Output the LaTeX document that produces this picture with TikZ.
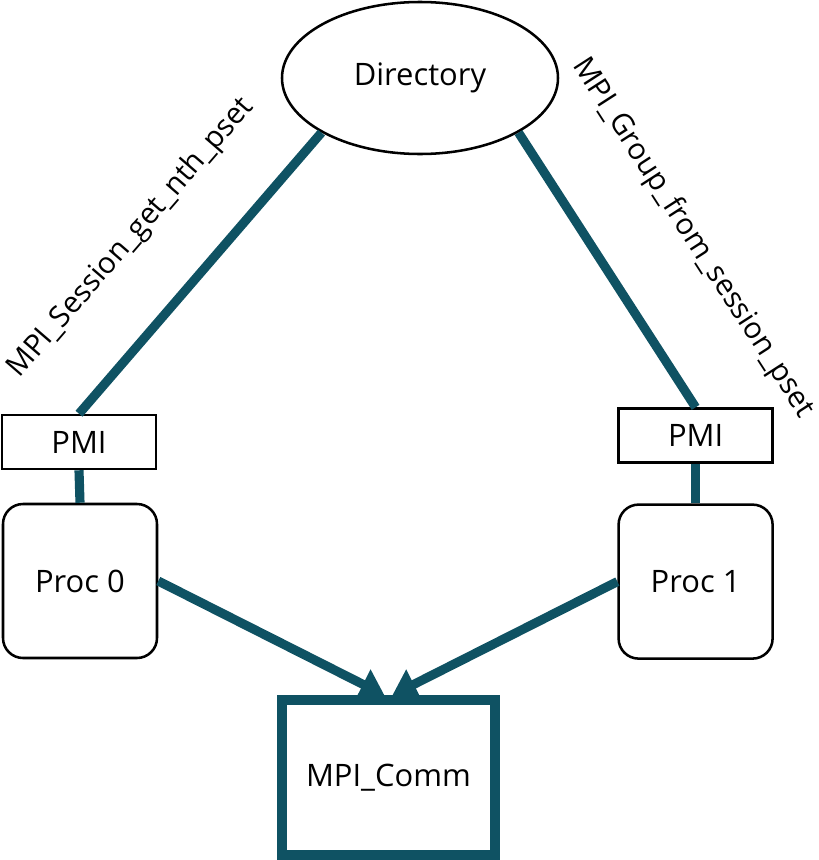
\documentclass[tikz,border=0pt]{standalone}
\usepackage{fontspec}
\setmainfont{Open Sans}
\usetikzlibrary{arrows.meta,shapes.geometric,positioning}
\definecolor{mpiteal}{RGB}{15,82,99}

\begin{document}
\begin{tikzpicture}[
    every node/.style={font=\fontsize{22}{26}\selectfont},
    pmibox/.style={draw, line width=1.8pt, minimum width=3.85cm, minimum height=1.35cm, inner sep=0pt},
    proc/.style={draw, line width=1.8pt, rounded corners=0.5cm, minimum width=3.85cm, minimum height=3.85cm, inner sep=0pt},
    link/.style={mpiteal, line width=6.5pt},
    arr/.style={-{Triangle[length=0.6cm, width=0.8cm]}, mpiteal, line width=6.5pt},
    lbl/.style={sloped, inner sep=0pt, text=black, font=\fontsize{21}{25}\selectfont}
]
\useasboundingbox (0,0) rectangle (20.475,-21.5);
\node[ellipse, draw, line width=1.8pt, minimum width=6.9cm, minimum height=3.8cm, inner sep=0pt] (dir) at (10.5,-1.95) {Directory};
\node[pmibox] (pmiL) at (1.975,-11.05) {PMI};
\node[pmibox] (pmiR) at (17.39,-10.89) {PMI};
\node[proc] (p0) at (2.0,-14.525) {Proc 0};
\node[proc] (p1) at (17.39,-14.54) {Proc 1};
\node[draw=mpiteal, line width=7pt, minimum width=5.33cm, minimum height=3.875cm, inner sep=0pt] (comm) at (9.71,-19.44) {MPI\_Comm};

\draw[link] (dir.209) -- node[lbl, pos=0.55, above=1.4cm] {MPI\_Session\_get\_nth\_pset} (pmiL.north);
\draw[link] (dir.331) -- node[lbl, pos=0.56, above=1.75cm] {MPI\_Group\_from\_session\_pset} (pmiR.north);
\draw[link] (pmiL.south) -- (p0.north);
\draw[link] (pmiR.south) -- (p1.north);
\draw[arr] (p0.east) -- ([xshift=-0.1cm]comm.north);
\draw[arr] (p1.west) -- ([xshift=0.1cm]comm.north);
\end{tikzpicture}
\end{document}
